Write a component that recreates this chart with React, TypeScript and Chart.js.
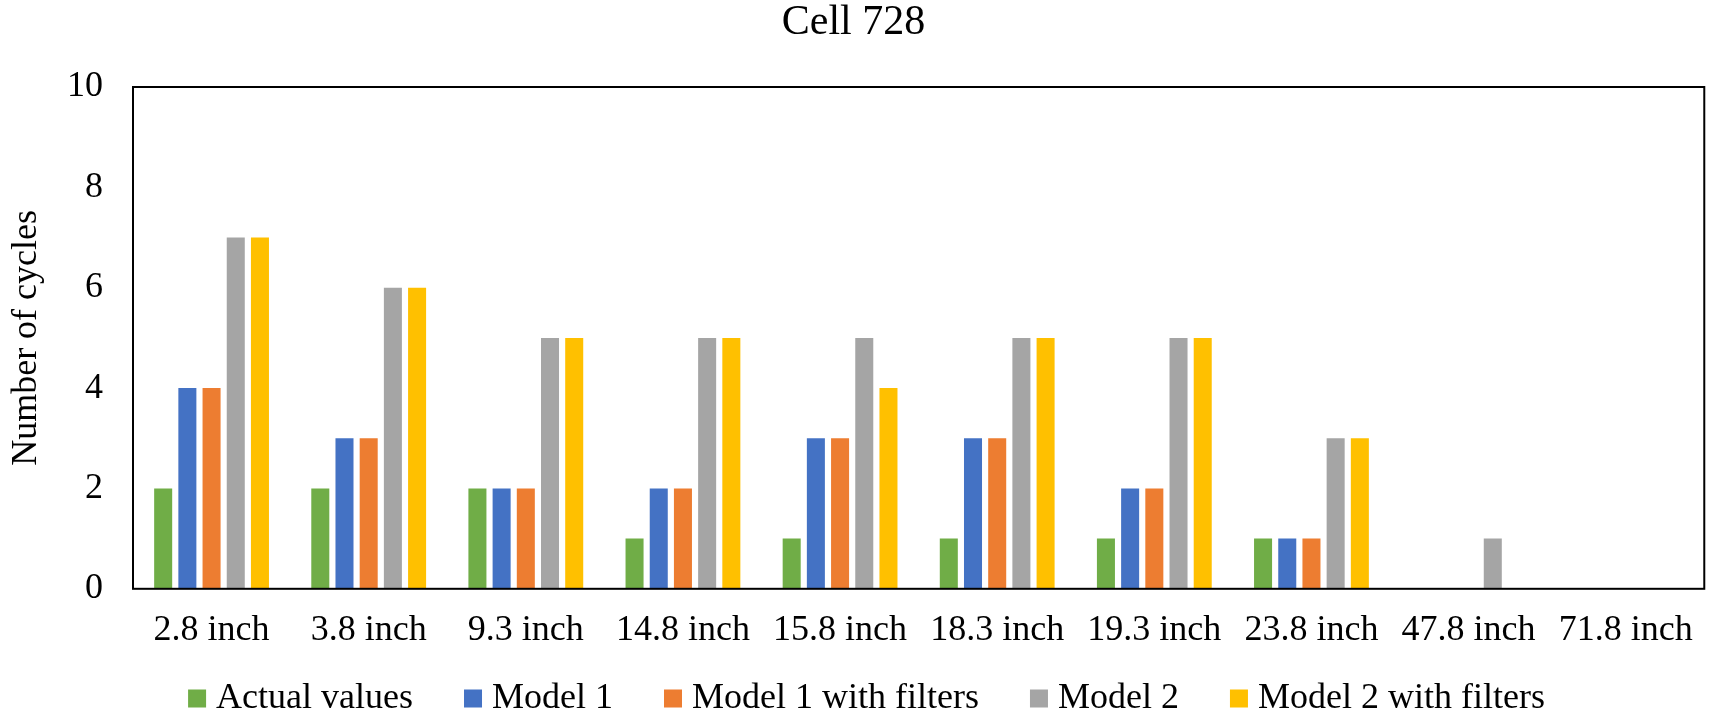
import React, { useEffect, useRef } from "react";
import { Chart, registerables } from "chart.js";

Chart.register(...registerables);

const categories = [
  "2.8 inch", "3.8 inch", "9.3 inch", "14.8 inch", "15.8 inch",
  "18.3 inch", "19.3 inch", "23.8 inch", "47.8 inch", "71.8 inch",
];
const actualValues = [2, 2, 2, 1, 1, 1, 1, 1, 0, 0];
const model1 = [4, 3, 2, 2, 3, 3, 2, 1, 0, 0];
const model1Filters = [4, 3, 2, 2, 3, 3, 2, 1, 0, 0];
const model2 = [7, 6, 5, 5, 5, 5, 5, 3, 1, 0];
const model2Filters = [7, 6, 5, 5, 4, 5, 5, 3, 0, 0];
const yTicks = [0, 2, 4, 6, 8, 10];

const seriesNames = ["Actual values", "Model 1", "Model 1 with filters", "Model 2", "Model 2 with filters"];
const seriesColors = ["#70AD47", "#4472C4", "#ED7D31", "#A5A5A5", "#FFC000"];

const FONT = "'Liberation Serif', 'Times New Roman', serif";

const boxPlugin = {
  id: "plotBox",
  afterDatasetsDraw(chart: any) {
    const { ctx, chartArea } = chart;
    ctx.save();
    ctx.strokeStyle = "#000";
    ctx.lineWidth = 2;
    ctx.strokeRect(chartArea.left, chartArea.top, chartArea.right - chartArea.left, chartArea.bottom - chartArea.top);
    ctx.restore();
  },
};

// Bottom legend drawn from the datasets (Excel-like spacing)
const legendPlugin = {
  id: "excelLegend",
  afterDraw(chart: any) {
    const { ctx } = chart;
    ctx.save();
    ctx.font = `36px ${FONT}`;
    const box = 18;
    const gapText = 10;
    const gapItem = 51;
    const items = chart.data.datasets.map((ds: any) => ({
      text: ds.label as string,
      color: ds.backgroundColor as string,
      w: ctx.measureText(ds.label).width,
    }));
    const total =
      items.reduce((s: number, it: any) => s + box + gapText + it.w, 0) + gapItem * (items.length - 1);
    let x = chart.width / 2 + 10 - total / 2;
    const baseline = chart.height - 5.5;
    ctx.textBaseline = "alphabetic";
    ctx.textAlign = "left";
    for (const it of items) {
      ctx.fillStyle = it.color;
      ctx.fillRect(x, baseline - box, box, box);
      ctx.fillStyle = "#000";
      ctx.fillText(it.text, x + box + gapText, baseline);
      x += box + gapText + it.w + gapItem;
    }
    ctx.restore();
  },
};

export default function App() {
  const ref = useRef<HTMLCanvasElement | null>(null);

  useEffect(() => {
    if (!ref.current) return;
    const seriesData = [actualValues, model1, model1Filters, model2, model2Filters];
    const chart = new Chart(ref.current, {
      type: "bar",
      data: {
        labels: categories,
        datasets: seriesData.map((d, i) => ({
          label: seriesNames[i],
          data: d,
          backgroundColor: seriesColors[i],
          borderWidth: 0,
          categoryPercentage: 0.77,
          barPercentage: 0.745,
        })),
      },
      options: {
        responsive: false,
        animation: false,
        color: "#000",
        layout: { padding: { left: 0, right: 6, top: 0, bottom: 41 } },
        plugins: {
          title: {
            display: true,
            text: "Cell 728",
            color: "#000",
            font: { family: FONT, size: 42, weight: "normal", lineHeight: 1 },
            padding: { top: 2, bottom: 43 },
          },
          legend: { display: false },
          tooltip: { enabled: false },
        },
        scales: {
          x: {
            grid: { display: false, drawTicks: false },
            border: { display: false },
            ticks: {
              color: "#000",
              font: { family: FONT, size: 36 },
              padding: 20,
              maxRotation: 0,
              autoSkip: false,
            },
          },
          y: {
            min: 0,
            max: 10,
            afterBuildTicks: (axis: any) => {
              axis.ticks = yTicks.map((v) => ({ value: v }));
            },
            grid: { display: false, drawTicks: false },
            border: { display: false },
            ticks: {
              color: "#000",
              font: { family: FONT, size: 36 },
              padding: 30,
            },
            title: {
              display: true,
              text: "Number of cycles",
              color: "#000",
              font: { family: FONT, size: 36 },
              padding: { top: 5.4, bottom: 0 },
            },
            afterFit: (scale: any) => {
              scale.width = 133;
            },
          },
        },
      },
      plugins: [boxPlugin, legendPlugin],
    });
    return () => chart.destroy();
  }, []);

  return (
    <div style={{ position: "absolute", left: 0, top: 0, width: 1713, height: 713, background: "#fff" }}>
      <canvas ref={ref} width={1713} height={713} style={{ display: "block" }} />
    </div>
  );
}
